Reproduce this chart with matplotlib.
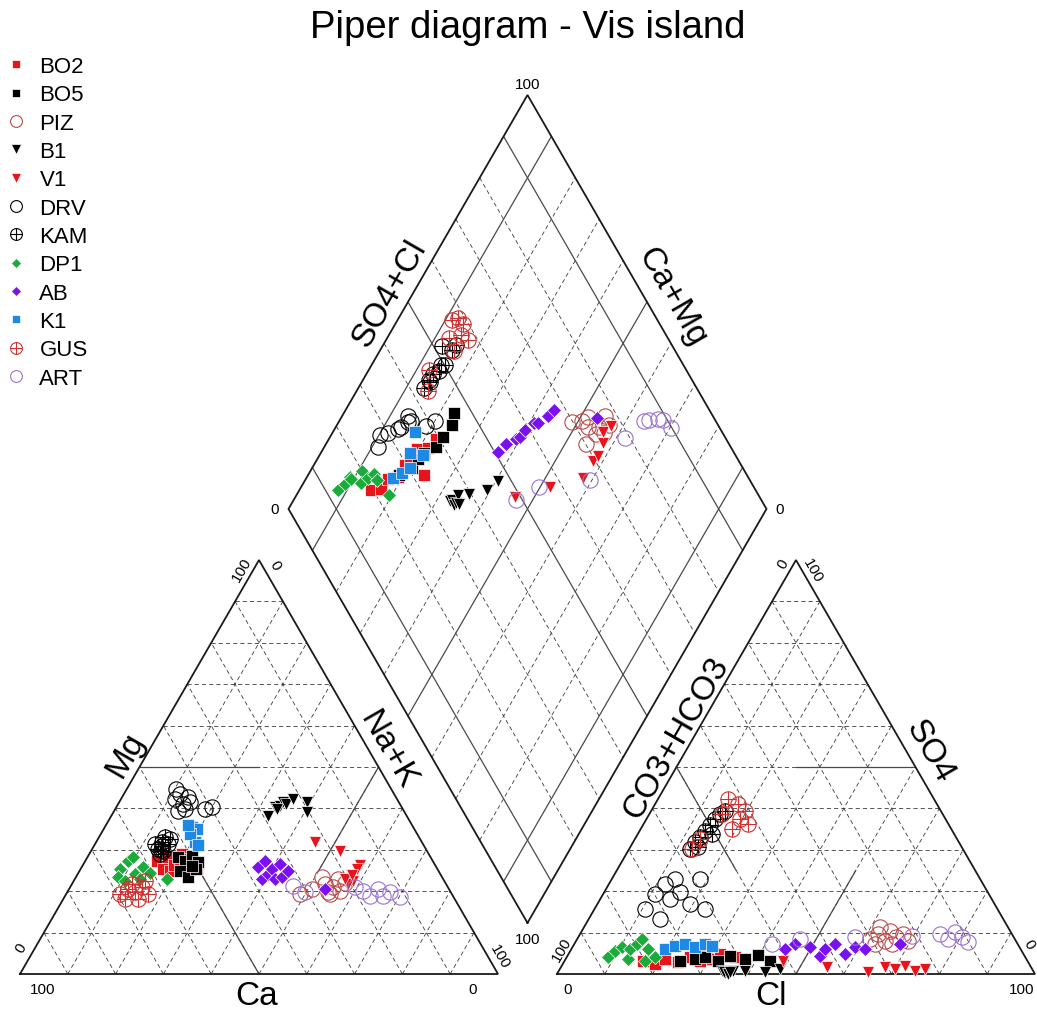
import numpy as np
import matplotlib
matplotlib.use("Agg")
import matplotlib.pyplot as plt

plt.rcParams['font.family'] = ['Liberation Sans', 'DejaVu Sans']
plt.rcParams['lines.scale_dashes'] = False

TITLE = "Piper diagram - Vis island"
SERIES = ["BO2", "BO5", "PIZ", "B1", "V1", "DRV", "KAM", "DP1", "AB", "K1", "GUS", "ART"]

# cations (% meq): Ca, Mg  -> Na+K = 100 - Ca - Mg
# anions  (% meq): Cl, SO4 -> CO3+HCO3 = 100 - Cl - SO4
BO2_CA = [57.7, 54.9, 57.4, 56.1, 54.6, 51.6, 52.6, 52.4, 50.3, 50.3]
BO2_MG = [27.3, 28.3, 25.4, 24.9, 26.3, 29.0, 27.8, 25.8, 27.3, 25.4]
BO2_CL = [16.4, 19.3, 20.8, 23.8, 25.7, 28.3, 30.6, 31.7, 35.1, 27.0]
BO2_SO4 = [3.1, 2.4, 3.6, 2.9, 4.1, 3.1, 3.6, 4.8, 4.1, 5.5]

BO5_CA = [52.8, 51.8, 54.1, 49.8, 53.2, 49.2, 50.5, 51.0]
BO5_MG = [28.3, 27.3, 24.9, 28.5, 23.4, 27.1, 25.4, 26.0]
BO5_CL = [24.1, 27.1, 28.9, 32.1, 34.0, 37.5, 39.8, 43.0]
BO5_SO4 = [3.1, 3.6, 4.1, 3.1, 4.3, 3.6, 4.6, 3.1]

PIZ_CA = [31.8, 28.7, 25.4, 24.0, 23.1, 21.0, 25.5, 22.1, 25.7, 25.1]
PIZ_MG = [19.3, 20.5, 21.7, 21.0, 20.0, 22.0, 19.3, 22.9, 19.8, 23.4]
PIZ_CL = [61.3, 62.4, 64.6, 64.5, 66.4, 67.6, 61.9, 69.4, 62.9, 66.5]
PIZ_SO4 = [8.5, 9.7, 8.0, 10.4, 8.9, 9.7, 11.4, 8.0, 7.2, 7.2]

B1_CA = [29.0, 26.5, 25.3, 24.2, 26.3, 23.8, 21.8, 19.2, 20.4]
B1_MG = [38.2, 40.3, 40.6, 41.5, 39.9, 41.1, 42.3, 41.5, 39.1]
B1_CL = [34.1, 35.0, 34.6, 35.8, 36.4, 36.0, 38.9, 43.3, 46.1]
B1_SO4 = [0.7, 0.3, 0.5, 0.0, 0.7, 0.4, 0.7, 0.5, 1.2]

V1_CA = [22.3, 18.2, 15.7, 16.8, 19.1, 20.5, 20.5, 18.6]
V1_MG = [31.9, 29.7, 26.3, 25.4, 22.5, 21.7, 22.9, 23.9]
V1_CL = [45.7, 55.7, 64.9, 67.8, 70.1, 71.8, 74.5, 76.4]
V1_SO4 = [3.1, 1.7, 0.5, 1.7, 1.2, 1.9, 0.7, 1.2]

DRV_CA = [46.4, 44.8, 45.4, 47.2, 43.5, 45.6, 43.6, 41.4, 39.7, 45.0]
DRV_MG = [42.3, 43.5, 41.1, 39.4, 42.8, 39.9, 41.5, 39.9, 40.3, 44.7]
DRV_CL = [10.5, 10.8, 11.7, 14.5, 13.2, 15.8, 19.3, 23.1, 18.4, 14.8]
DRV_SO4 = [15.7, 19.3, 21.7, 18.1, 22.9, 19.8, 16.9, 15.7, 22.9, 13.3]

KAM_CA = [56.0, 54.4, 53.1, 56.2, 53.3, 56.1, 55.2, 52.3, 54.8, 55.5]
KAM_MG = [30.2, 31.9, 33.1, 29.0, 31.4, 31.4, 29.7, 32.6, 31.0, 30.0]
KAM_CL = [12.7, 13.0, 13.4, 13.7, 14.0, 14.4, 14.8, 15.4, 14.2, 15.5]
KAM_SO4 = [30.2, 31.9, 33.1, 34.5, 36.0, 37.4, 38.6, 39.4, 30.7, 33.8]

DP1_CA = [66.4, 67.8, 63.8, 62.2, 66.8, 63.8, 61.4, 63.4, 60.6, 57.8]
DP1_MG = [25.4, 23.4, 27.3, 28.3, 22.5, 24.2, 25.8, 22.9, 24.4, 22.9]
DP1_CL = [8.6, 9.3, 13.1, 10.3, 16.8, 12.3, 13.1, 13.6, 16.0, 18.5]
DP1_SO4 = [4.1, 5.6, 3.6, 6.5, 3.1, 6.0, 7.2, 8.5, 6.0, 4.1]

AB_CA = [37.3, 35.1, 38.0, 36.0, 34.6, 32.3, 35.2, 33.5, 31.5, 26.0]
AB_MG = [25.8, 27.3, 22.9, 24.2, 25.4, 26.6, 22.9, 23.4, 24.9, 20.5]
AB_CL = [44.7, 46.2, 49.6, 52.8, 53.1, 54.6, 57.9, 59.0, 61.4, 68.2]
AB_SO4 = [6.0, 7.2, 6.5, 4.3, 6.0, 7.2, 4.8, 6.5, 6.0, 7.2]

K1_CA = [46.3, 45.5, 47.5, 47.5, 47.2, 46.9]
K1_MG = [35.5, 35.0, 31.9, 33.8, 31.2, 36.0]
K1_CL = [19.6, 21.3, 23.2, 25.6, 27.4, 29.0]
K1_SO4 = [6.0, 6.8, 7.2, 6.5, 7.2, 6.8]

GUS_CA = [69.4, 67.1, 66.0, 64.0, 63.5, 69.0, 66.3, 65.7, 62.6]
GUS_MG = [19.3, 20.5, 19.8, 21.0, 19.3, 18.1, 18.1, 21.7, 22.5]
GUS_CL = [14.7, 17.4, 19.6, 19.6, 21.9, 19.1, 15.2, 13.6, 13.1]
GUS_SO4 = [42.3, 41.1, 39.4, 37.4, 36.2, 35.0, 38.6, 32.6, 30.2]

ART_CA = [32.2, 30.5, 19.4, 18.2, 17.4, 14.8, 14.7, 12.7, 11.2]
ART_MG = [21.3, 19.8, 21.0, 20.0, 18.8, 20.5, 18.8, 19.8, 18.6]
ART_CL = [41.4, 46.6, 57.8, 69.7, 75.3, 77.6, 78.2, 80.2, 82.1]
ART_SO4 = [7.2, 8.5, 8.9, 9.2, 9.7, 8.5, 10.1, 8.9, 7.7]

DATA = {
    "BO2": (BO2_CA, BO2_MG, BO2_CL, BO2_SO4),
    "BO5": (BO5_CA, BO5_MG, BO5_CL, BO5_SO4),
    "PIZ": (PIZ_CA, PIZ_MG, PIZ_CL, PIZ_SO4),
    "B1": (B1_CA, B1_MG, B1_CL, B1_SO4),
    "V1": (V1_CA, V1_MG, V1_CL, V1_SO4),
    "DRV": (DRV_CA, DRV_MG, DRV_CL, DRV_SO4),
    "KAM": (KAM_CA, KAM_MG, KAM_CL, KAM_SO4),
    "DP1": (DP1_CA, DP1_MG, DP1_CL, DP1_SO4),
    "AB": (AB_CA, AB_MG, AB_CL, AB_SO4),
    "K1": (K1_CA, K1_MG, K1_CL, K1_SO4),
    "GUS": (GUS_CA, GUS_MG, GUS_CL, GUS_SO4),
    "ART": (ART_CA, ART_MG, ART_CL, ART_SO4),
}

# kind, marker, colour, plot size, legend size
STYLE = {
    "BO2": ("filled", "s", "#e8141b", 8.0, 6.0),
    "BO5": ("filled", "s", "black", 8.0, 6.0),
    "PIZ": ("open", "o", "#b94a48", 11.0, 8.5),
    "B1": ("filled", "v", "black", 9.0, 7.0),
    "V1": ("filled", "v", "#e8141b", 9.0, 7.0),
    "DRV": ("open", "o", "black", 11.0, 8.5),
    "KAM": ("oplus", "o", "black", 11.0, 8.5),
    "DP1": ("filled", "D", "#1aab3a", 7.0, 5.5),
    "AB": ("filled", "D", "#7a10f0", 7.0, 5.5),
    "K1": ("filled", "s", "#1e88e5", 8.0, 6.0),
    "GUS": ("oplus", "o", "#d03030", 11.0, 8.5),
    "ART": ("open", "o", "#9b72cf", 11.0, 8.5),
}

# ── geometry (unit = triangle side) ──────────────────────────────────────────
H = np.sqrt(3) / 2
GAP = 0.1234
X_AN = 1 + GAP
BX, BY = 1 + GAP / 2, GAP * H          # diamond bottom vertex
PX_UNIT = 478.0                         # pixels per unit


def cation_xy(ca, mg):
    ca, mg = np.asarray(ca, float), np.asarray(mg, float)
    na = 100 - ca - mg
    return (na + mg / 2) / 100, mg / 100 * H


def anion_xy(cl, so4):
    cl, so4 = np.asarray(cl, float), np.asarray(so4, float)
    return X_AN + (cl + so4 / 2) / 100, so4 / 100 * H


def diamond_xy(ca, mg, cl, so4):
    c = (np.asarray(ca, float) + np.asarray(mg, float)) / 100
    s = (np.asarray(cl, float) + np.asarray(so4, float)) / 100
    return BX + 0.5 * (s - c), BY + H * (s + c)


fig = plt.figure(figsize=(10.37, 10.12), dpi=100)
ax = fig.add_axes([0, 0, 1, 1])
ax.set_xlim(-20 / PX_UNIT, 1017 / PX_UNIT)
ax.set_ylim(-37 / PX_UNIT, 975 / PX_UNIT)
ax.axis('off')

dash = dict(color='#3a3a3a', lw=0.6, ls=(0, (3, 2.2)), zorder=1)
solid = dict(color='#4a4a4a', lw=0.9, zorder=1.5)
edge = dict(color='#1a1a1a', lw=1.3, zorder=2, solid_joinstyle='miter')


def seg(p, q, **kw):
    ax.plot([p[0], q[0]], [p[1], q[1]], **kw)


# ── triangles ────────────────────────────────────────────────────────────────
for x0 in (0.0, X_AN):
    for k in range(1, 10):
        f = k / 10
        seg((x0 + f / 2, f * H), (x0 + 1 - f / 2, f * H), **dash)
        seg((x0 + f, 0), (x0 + f + (1 - f) / 2, (1 - f) * H), **dash)
        seg((x0 + f, 0), (x0 + f / 2, f * H), **dash)
    ax.plot([x0, x0 + 1, x0 + 0.5, x0], [0, 0, H, 0], **edge)

# facies boundaries
seg(cation_xy(50, 50), cation_xy(25, 50), **solid)
seg(cation_xy(0, 50), cation_xy(25, 25), **solid)
seg(cation_xy(50, 0), cation_xy(50, 25), **solid)
seg(anion_xy(25, 50), anion_xy(50, 50), **solid)
seg(anion_xy(50, 0), anion_xy(50, 25), **solid)
seg(anion_xy(0, 50), anion_xy(25, 25), **solid)

# ── diamond ─────────────────────────────────────────────────────────────────
Bv = np.array([BX, BY])
Lv = Bv + [-0.5, H]
Rv = Bv + [0.5, H]
Tv = Bv + [0, 2 * H]
for k in range(1, 10):
    f = k / 10
    style = solid if k in (1, 5, 9) else dash
    seg(Lv + f * (Bv - Lv), Tv + f * (Rv - Tv), **style)
    seg(Lv + f * (Tv - Lv), Bv + f * (Rv - Bv), **style)
ax.plot([Bv[0], Lv[0], Tv[0], Rv[0], Bv[0]],
        [Bv[1], Lv[1], Tv[1], Rv[1], Bv[1]], **edge)


# ── points ──────────────────────────────────────────────────────────────────
def draw(x, y, st, legend=False):
    kind, mk, col, ms, lms = st
    size = lms if legend else ms
    if kind == "filled":
        return ax.plot(x, y, ls='none', marker=mk, ms=size, mfc=col, mec='white',
                       mew=0.5, zorder=4)[0]
    if kind == "open":
        return ax.plot(x, y, ls='none', marker='o', ms=size, mfc='none', mec=col,
                       mew=0.8, zorder=4)[0]
    a = ax.plot(x, y, ls='none', marker='o', ms=size, mfc='none', mec=col,
                mew=0.8, zorder=4)[0]
    b = ax.plot(x, y, ls='none', marker='+', ms=size, mec=col, mew=0.8, zorder=4)[0]
    return (a, b)


for name in SERIES:
    ca, mg, cl, so4 = DATA[name]
    st = STYLE[name]
    draw(*cation_xy(ca, mg), st)
    draw(*anion_xy(cl, so4), st)
    draw(*diamond_xy(ca, mg, cl, so4), st)

# ── labels ──────────────────────────────────────────────────────────────────
def px(xp, yp):
    return (xp - 20) / PX_UNIT, (975 - yp) / PX_UNIT


LAB = 24
for txt, (xp, yp), rot in [
    ("Ca", (257, 997), 0), ("Mg", (125, 755), 60), ("Na+K", (388, 750), -60),
    ("Cl", (771, 997), 0), ("SO4", (930, 752), -60), ("CO3+HCO3", (676, 738), 60),
    ("SO4+Cl", (390, 294), 60), ("Ca+Mg", (672, 297), -60),
]:
    ax.text(*px(xp, yp), txt, fontsize=LAB, rotation=rot, ha='center', va='center')

TK = 11
for txt, (xp, yp), rot in [
    ("100", (43, 990), 0), ("0", (473, 990), 0), ("0", (21, 948), 60),
    ("100", (242, 570), 60), ("0", (275, 566), -60), ("100", (500, 957), -60),
    ("0", (568, 990), 0), ("100", (1022, 990), 0), ("100", (562, 950), 60),
    ("0", (783, 564), 60), ("100", (813, 571), -60), ("0", (1029, 945), -60),
    ("100", (528, 85), 0), ("0", (275, 510), 0), ("0", (780, 510), 0),
    ("100", (528, 940), 0),
]:
    ax.text(*px(xp, yp), txt, fontsize=TK, rotation=rot, ha='center', va='center')

fig.text(528 / 1037, 1 - 27.5 / 1012, TITLE, fontsize=27.5, ha='center', va='center')

handles = [draw([], [], STYLE[n], legend=True) for n in SERIES]
fig.legend(handles, SERIES, loc='upper left', bbox_to_anchor=(5 / 1037, 1 - 57 / 1012),
           frameon=False, fontsize=16, handlelength=1.0, handletextpad=0.55,
           labelspacing=0.33, borderpad=0, borderaxespad=0)

fig.savefig("out.png", dpi=100)
